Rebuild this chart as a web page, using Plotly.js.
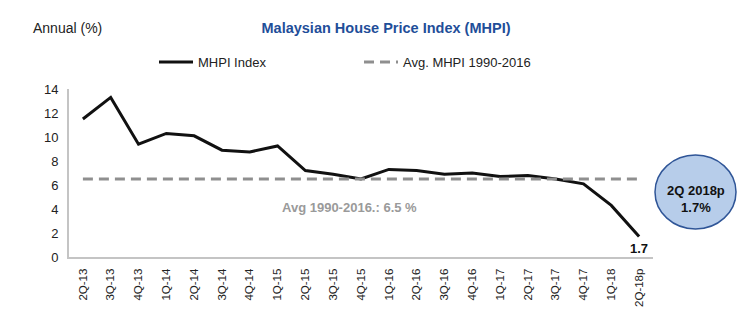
<!DOCTYPE html>
<html>
<head>
<meta charset="utf-8">
<script src="https://cdn.plot.ly/plotly-3.0.1.min.js"></script>
<style>html,body{margin:0;padding:0;background:#fff;}#chart{width:750px;height:330px;}</style>
</head>
<body>
<div id="chart"></div>
<script>
const categories = ["2Q-13","3Q-13","4Q-13","1Q-14","2Q-14","3Q-14","4Q-14","1Q-15","2Q-15","3Q-15","4Q-15","1Q-16","2Q-16","3Q-16","4Q-16","1Q-17","2Q-17","3Q-17","4Q-17","1Q-18","2Q-18p"];
const mhpi = [11.5,13.3,9.4,10.3,10.1,8.9,8.75,9.25,7.2,6.9,6.5,7.3,7.2,6.9,7.0,6.7,6.8,6.5,6.1,4.3,1.7];
const avgValue = 6.5;
const avgLine = categories.map(() => avgValue);
const yTicks = [0,2,4,6,8,10,12,14];
const lastLabel = "1.7";
const bubbleText = "2Q 2018p<br>1.7%";
const avgLabel = "Avg 1990-2016.: 6.5 %";

const FONT = "Liberation Sans, Arial, sans-serif";
const ML = 69, MR = 97, MT = 89, MB = 73, W = 750, H = 330;
const PW = W - ML - MR, PH = H - MT - MB;
const px2paperX = p => (p - ML) / PW;

const traces = [
  {x: categories, y: mhpi, type: 'scatter', mode: 'lines', name: 'MHPI Index',
   line: {color: '#111111', width: 3}},
  {x: categories, y: avgLine, type: 'scatter', mode: 'lines', name: 'Avg. MHPI 1990-2016',
   line: {color: '#8f8f8f', width: 3, dash: '10px,6px'}}
];

const layout = {
  width: W, height: H,
  margin: {l: ML, r: MR, t: MT, b: MB, pad: 0},
  paper_bgcolor: '#ffffff', plot_bgcolor: '#ffffff',
  font: {family: FONT, size: 13, color: '#222222'},
  title: {text: '<b>Malaysian House Price Index (MHPI)</b>', font: {family: FONT, size: 14.5, color: '#1f4e99'},
          x: 386/750, xanchor: 'center', xref: 'container', y: 1 - 28/330, yanchor: 'middle', yref: 'container'},
  showlegend: true,
  legend: {orientation: 'h', xref: 'container', yref: 'container', x: 154/750, y: 1 - 62/330,
           xanchor: 'left', yanchor: 'middle', font: {family: FONT, size: 13, color: '#222'},
           entrywidth: 156, entrywidthmode: 'pixels', bgcolor: 'rgba(0,0,0,0)', itemwidth: 34},
  xaxis: {type: 'category', range: [-0.5, categories.length - 0.5], showgrid: false, zeroline: false,
          showline: true, linecolor: '#c4c4c4', linewidth: 2, ticks: '', tickangle: -90,
          tickfont: {family: FONT, size: 11.5, color: '#222'}, ticklabelstandoff: 5},
  yaxis: {range: [0, 14], tickvals: yTicks, showgrid: false, zeroline: false,
          showline: true, linecolor: '#c4c4c4', linewidth: 2, ticks: '',
          tickfont: {family: FONT, size: 13, color: '#222'}, ticklabelstandoff: 6},
  shapes: [
    {type: 'circle', xref: 'paper', yref: 'y', x0: px2paperX(655), x1: px2paperX(736),
     y0: (257-229)/12, y1: (257-155)/12, fillcolor: '#b7cdea', line: {color: '#2f5597', width: 1.5}, layer: 'above'}
  ],
  annotations: [
    {text: 'Annual (%)', xref: 'paper', yref: 'paper', x: px2paperX(31), y: 1 + (MT - 28)/PH,
     xanchor: 'left', yanchor: 'middle', showarrow: false, font: {family: FONT, size: 14, color: '#222'}},
    {text: '<b>' + avgLabel + '</b>', xref: 'paper', yref: 'y', x: px2paperX(349), y: (257-207)/12,
     xanchor: 'center', yanchor: 'middle', showarrow: false, font: {family: FONT, size: 13, color: '#9a9a9a'}},
    {text: '<b>' + lastLabel + '</b>', xref: 'x', yref: 'y', x: categories[categories.length-1], y: mhpi[mhpi.length-1],
     yshift: -12, xanchor: 'center', yanchor: 'middle', showarrow: false, font: {family: FONT, size: 13, color: '#111'}},
    {text: '<b>' + bubbleText + '</b>', xref: 'paper', yref: 'y', x: px2paperX(695.5), y: (257-198.5)/12,
     xanchor: 'center', yanchor: 'middle', showarrow: false, font: {family: FONT, size: 13, color: '#111'}}
  ]
};

Plotly.newPlot('chart', traces, layout, {displayModeBar: false, staticPlot: true});
</script>
</body>
</html>
